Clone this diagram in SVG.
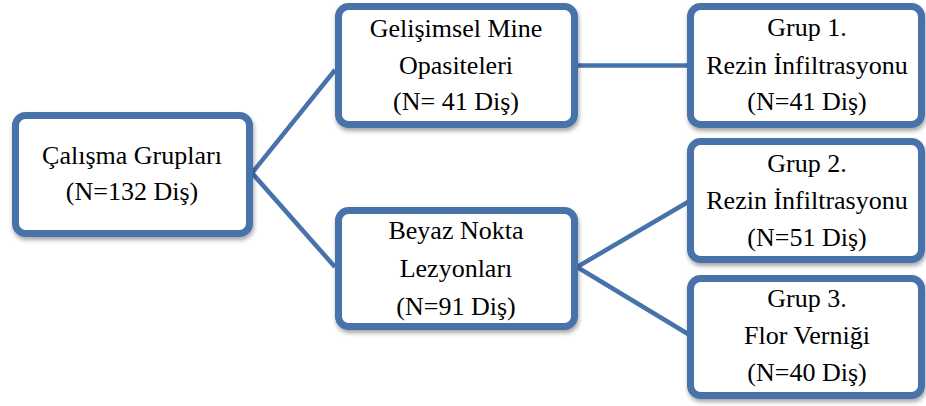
<svg xmlns="http://www.w3.org/2000/svg" width="926" height="406" viewBox="0 0 926 406">
<defs>
<filter id="sh" x="-10%" y="-10%" width="125%" height="130%">
<feDropShadow dx="1" dy="3" stdDeviation="2.2" flood-color="#000" flood-opacity="0.35"/>
</filter>
</defs>
<g id="connectors" stroke="#4773aa" stroke-width="4.5" fill="none">
<polyline points="335,70 252,173 335,267"/>
<line x1="577" y1="65.5" x2="688" y2="65.5"/>
<polyline points="688,202 577,267 688,334"/>
</g>
<g id="root">
<rect x="15.5" y="115.5" width="234" height="118" rx="10" fill="#fff" stroke="#4773aa" stroke-width="7" filter="url(#sh)"/>
<text x="132" y="164" font-family="Liberation Serif" font-size="26" text-anchor="middle">Çalışma Grupları</text>
<text x="132" y="200" font-family="Liberation Serif" font-size="26" text-anchor="middle">(N=132 Diş)</text>
</g>
<g id="mid1">
<rect x="338.5" y="6.5" width="236" height="118" rx="10" fill="#fff" stroke="#4773aa" stroke-width="7" filter="url(#sh)"/>
<text x="456" y="37" font-family="Liberation Serif" font-size="26" text-anchor="middle">Gelişimsel Mine</text>
<text x="456" y="74" font-family="Liberation Serif" font-size="26" text-anchor="middle">Opasiteleri</text>
<text x="456" y="110" font-family="Liberation Serif" font-size="26" text-anchor="middle">(N= 41 Diş)</text>
</g>
<g id="mid2">
<rect x="338.5" y="210.5" width="236" height="116" rx="10" fill="#fff" stroke="#4773aa" stroke-width="7" filter="url(#sh)"/>
<text x="456" y="239" font-family="Liberation Serif" font-size="26" text-anchor="middle">Beyaz Nokta</text>
<text x="456" y="277" font-family="Liberation Serif" font-size="26" text-anchor="middle">Lezyonları</text>
<text x="456" y="315" font-family="Liberation Serif" font-size="26" text-anchor="middle">(N=91 Diş)</text>
</g>
<g id="grup1">
<rect x="690.5" y="6.5" width="231" height="118" rx="10" fill="#fff" stroke="#4773aa" stroke-width="7" filter="url(#sh)"/>
<text x="807" y="36" font-family="Liberation Serif" font-size="26" text-anchor="middle">Grup 1.</text>
<text x="807" y="74" font-family="Liberation Serif" font-size="26" text-anchor="middle">Rezin İnfiltrasyonu</text>
<text x="807" y="110" font-family="Liberation Serif" font-size="26" text-anchor="middle">(N=41 Diş)</text>
</g>
<g id="grup2">
<rect x="690.5" y="141.5" width="231" height="118" rx="10" fill="#fff" stroke="#4773aa" stroke-width="7" filter="url(#sh)"/>
<text x="807" y="172" font-family="Liberation Serif" font-size="26" text-anchor="middle">Grup 2.</text>
<text x="807" y="209" font-family="Liberation Serif" font-size="26" text-anchor="middle">Rezin İnfiltrasyonu</text>
<text x="807" y="246" font-family="Liberation Serif" font-size="26" text-anchor="middle">(N=51 Diş)</text>
</g>
<g id="grup3">
<rect x="690.5" y="278.5" width="231" height="117" rx="10" fill="#fff" stroke="#4773aa" stroke-width="7" filter="url(#sh)"/>
<text x="807" y="307" font-family="Liberation Serif" font-size="26" text-anchor="middle">Grup 3.</text>
<text x="807" y="344" font-family="Liberation Serif" font-size="26" text-anchor="middle">Flor Verniği</text>
<text x="807" y="381" font-family="Liberation Serif" font-size="26" text-anchor="middle">(N=40 Diş)</text>
</g>
</svg>
